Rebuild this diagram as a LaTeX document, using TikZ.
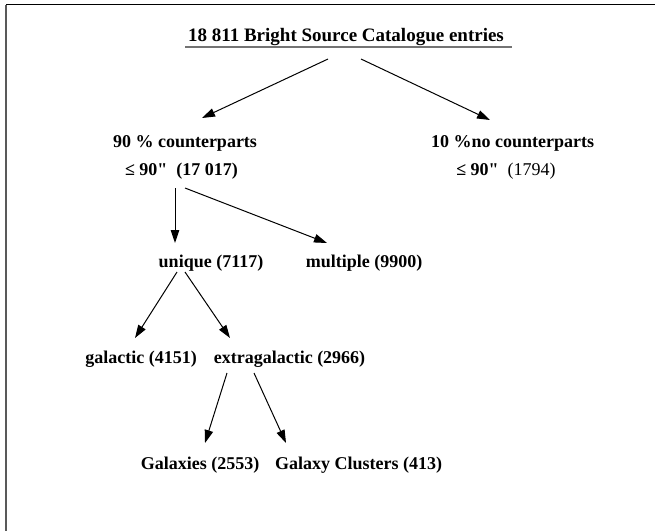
\documentclass[tikz,border=0pt]{standalone}
\usepackage{fontspec}
\setmainfont{Liberation Serif}
\newfontfamily\rawserif{Liberation Serif}
\newcommand{\dq}{{\rawserif\bfseries"}}
\usetikzlibrary{arrows.meta,calc}
\begin{document}
\begin{tikzpicture}[x=1pt,y=-1pt,
  lbl/.style={inner sep=0pt,anchor=base,font=\fontsize{18}{22}\selectfont\bfseries},
  arr/.style={draw=black,line width=1pt,-{Triangle[length=13pt,width=8.5pt]}}]
\useasboundingbox (0,0) rectangle (655,531);
\fill[white] (0,0) rectangle (655,531);
% frame
\draw[black,line width=1.5pt] (6,4.5) -- (655,4.5);
\draw[black!65,line width=1.5pt] (6,4.5) -- (6,531);
% nodes
\node[lbl,font=\fontsize{19}{23}\selectfont\bfseries] (title) at (346,41) {18 811 Bright Source Catalogue entries};
\draw[black!55,line width=1.5pt] (185,47) -- (512,47);
\node[lbl] (cp1) at (185,147) {90 \% counterparts};
\node[lbl] (cp2) at (181.5,175) {≤ 90\dq\ \ (17 017)};
\node[lbl] (nc1) at (512.5,147) {10 \%no counterparts};
\node[lbl] (nc2) at (506,175) {≤ 90\dq\ \ \mdseries(1794)};
\node[lbl] (uni) at (211,267) {unique (7117)};
\node[lbl] (mul) at (364,267) {multiple (9900)};
\node[lbl] (gal) at (141,363) {galactic (4151)};
\node[lbl] (ext) at (289.5,363) {extragalactic (2966)};
\node[lbl] (gxs) at (200,469) {Galaxies (2553)};
\node[lbl] (gcl) at (358.5,469) {Galaxy Clusters (413)};
% arrows
\draw[arr] ($(title.base)+(-18,18)$) -- ($(cp1.base)+(17,-29)$);
\draw[arr] ($(title.base)+(15,18)$) -- ($(nc1.base)+(-22.5,-27)$);
\draw[arr] ($(cp2.base)+(-6.5,13)$) -- ($(uni.base)+(-36,-24)$);
\draw[arr] ($(cp2.base)+(3.5,13)$) -- ($(mul.base)+(-37,-24)$);
\draw[arr] ($(uni.base)+(-34,5)$) -- ($(gal.base)+(-6,-25)$);
\draw[arr] ($(uni.base)+(-26,5)$) -- ($(ext.base)+(-59.5,-25)$);
\draw[arr] ($(ext.base)+(-62.5,10)$) -- ($(gxs.base)+(5,-26)$);
\draw[arr] ($(ext.base)+(-35.5,10)$) -- ($(gcl.base)+(-72.5,-26)$);
\end{tikzpicture}
\end{document}
